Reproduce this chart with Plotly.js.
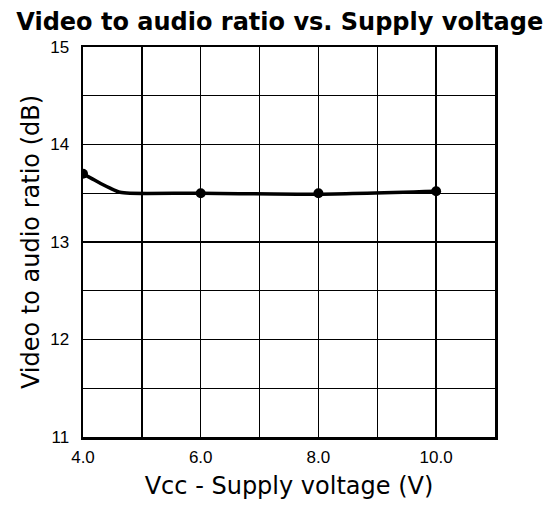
<!DOCTYPE html>
<html><head><meta charset="utf-8">
<script src="https://cdn.plot.ly/plotly-3.0.1.min.js"></script>
<style>body{margin:0;background:#fff}#c{width:554px;height:506px}</style>
</head><body><div id="c"></div>
<script>
// Measured points (markers)
const supplyV = [4.0, 6.0, 8.0, 10.0];
const ratioDb = [13.7, 13.5, 13.5, 13.52];
// Curve
const curveV = [4.0, 4.15, 4.3, 4.47, 4.63, 4.8, 6.0, 8.0, 10.0];
const curveDb = [13.7, 13.65, 13.6, 13.55, 13.51, 13.5, 13.5, 13.49, 13.52];
const xTicks = [4, 6, 8, 10];
const xTickText = ["4.0", "6.0", "8.0", "10.0"];
const yTicks = [11, 12, 13, 14, 15];

Plotly.newPlot('c', [
  {x: curveV, y: curveDb, mode: 'lines', line: {color: '#000', width: 3.5, shape: 'spline', smoothing: 0.6}, hoverinfo: 'skip'},
  {x: supplyV, y: ratioDb, mode: 'markers', marker: {color: '#000', size: 10}}
], {
  width: 554, height: 506,
  margin: {l: 83, r: 59, t: 47, b: 69},
  showlegend: false,
  paper_bgcolor: '#fff', plot_bgcolor: '#fff',
  font: {family: 'Liberation Sans, Arial, sans-serif', color: '#000'},
  title: {text: '<b>Video to audio ratio vs. Supply voltage</b>', x: 0.505, xanchor: 'center', y: 0.957, yanchor: 'middle', font: {size: 24, family: 'DejaVu Sans, sans-serif'}},
  xaxis: {
    range: [4, 11], tickvals: xTicks, ticktext: xTickText,
    showgrid: true, gridcolor: '#000', gridwidth: 1.5,
    minor: {dtick: 1, tick0: 4, showgrid: true, gridcolor: '#000', gridwidth: 1.5},
    showline: true, linecolor: '#000', linewidth: 2.5, mirror: true,
    ticks: '', tickfont: {size: 17, family: 'Liberation Sans Narrow, Liberation Sans, sans-serif'}, zeroline: false,
    ticklabelstandoff: 3,
    title: {text: 'Vcc - Supply voltage (V)', font: {size: 24, family: 'DejaVu Sans, sans-serif'}, standoff: 12}
  },
  yaxis: {
    range: [11, 15], tickvals: yTicks,
    showgrid: true, gridcolor: '#000', gridwidth: 1.5,
    minor: {dtick: 0.5, tick0: 11, showgrid: true, gridcolor: '#000', gridwidth: 1.2},
    showline: true, linecolor: '#000', linewidth: 2.5, mirror: true,
    ticks: '', tickfont: {size: 17, family: 'Liberation Sans Narrow, Liberation Sans, sans-serif'}, zeroline: false,
    ticklabelstandoff: 8,
    title: {text: 'Video to audio ratio (dB)', font: {size: 24, family: 'DejaVu Sans, sans-serif'}, standoff: 4}
  }
}, {displayModeBar: false, staticPlot: true});
</script></body></html>
